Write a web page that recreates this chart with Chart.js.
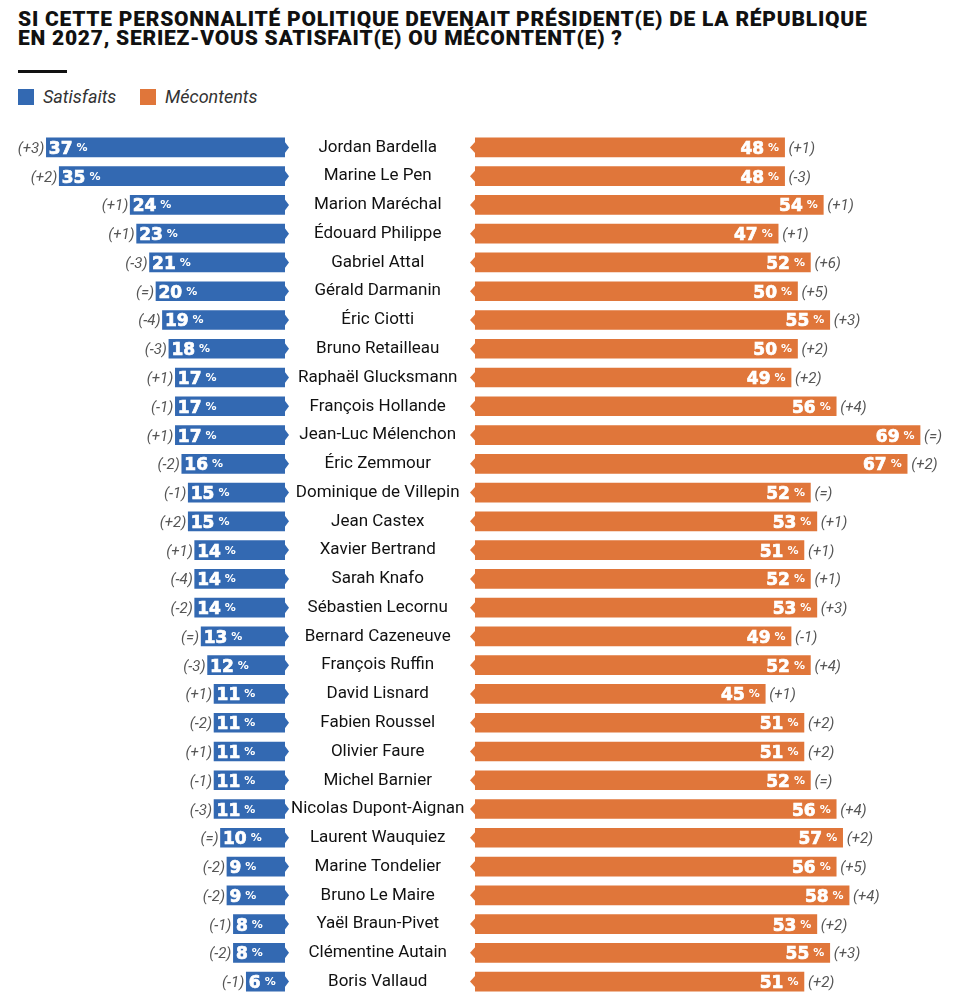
<!DOCTYPE html>
<html>
<head>
<meta charset="utf-8">
<script src="https://cdn.jsdelivr.net/npm/chart.js@4.4.0/dist/chart.umd.min.js"></script>
<style>
  body { margin: 0; background: #fff; width: 961px; height: 1000px; position: relative; overflow: hidden; font-family: Roboto, sans-serif; }
  #title { position: absolute; left: 18px; top: 10px; font-weight: 900; font-size: 21px; line-height: 19px; color: #111; letter-spacing: 0.75px; }
  #rule { position: absolute; left: 18px; top: 70px; width: 49px; height: 3px; background: #111; }
  .leg { position: absolute; top: 86px; font-style: italic; font-size: 18px; color: #333; }
  .sw { display: inline-block; width: 16px; height: 16px; vertical-align: -2px; margin-right: 9px; }
  #leftBox { position: absolute; left: 0; top: 133px; width: 470px; height: 863px; }
  #rightBox { position: absolute; left: 470px; top: 133px; width: 491px; height: 863px; }
</style>
</head>
<body>
<div id="title">SI CETTE PERSONNALITÉ POLITIQUE DEVENAIT PRÉSIDENT(E) DE LA RÉPUBLIQUE<br>EN 2027, SERIEZ-VOUS SATISFAIT(E) OU MÉCONTENT(E) ?</div>
<div id="rule"></div>
<div class="leg" style="left:18px"><span class="sw" style="background:#3369b2"></span>Satisfaits</div>
<div class="leg" style="left:140px"><span class="sw" style="background:#e0763a"></span>Mécontents</div>
<div id="leftBox"><canvas id="leftChart"></canvas></div>
<div id="rightBox"><canvas id="rightChart"></canvas></div>
<script>
// data
const names = ['Jordan Bardella', 'Marine Le Pen', 'Marion Maréchal', 'Édouard Philippe', 'Gabriel Attal',
  'Gérald Darmanin', 'Éric Ciotti', 'Bruno Retailleau', 'Raphaël Glucksmann', 'François Hollande',
  'Jean-Luc Mélenchon', 'Éric Zemmour', 'Dominique de Villepin', 'Jean Castex', 'Xavier Bertrand',
  'Sarah Knafo', 'Sébastien Lecornu', 'Bernard Cazeneuve', 'François Ruffin', 'David Lisnard',
  'Fabien Roussel', 'Olivier Faure', 'Michel Barnier', 'Nicolas Dupont-Aignan', 'Laurent Wauquiez',
  'Marine Tondelier', 'Bruno Le Maire', 'Yaël Braun-Pivet', 'Clémentine Autain', 'Boris Vallaud'];
const satisfaits = [37, 35, 24, 23, 21, 20, 19, 18, 17, 17, 17, 16, 15, 15, 14, 14, 14, 13, 12, 11, 11, 11, 11, 11, 10, 9, 9, 8, 8, 6];
const satisfaitsEvol = ['+3', '+2', '+1', '+1', '-3', '=', '-4', '-3', '+1', '-1', '+1', '-2', '-1', '+2', '+1',
  '-4', '-2', '=', '-3', '+1', '-2', '+1', '-1', '-3', '=', '-2', '-2', '-1', '-2', '-1'];
const mecontents = [48, 48, 54, 47, 52, 50, 55, 50, 49, 56, 69, 67, 52, 53, 51, 52, 53, 49, 52, 45, 51, 51, 52, 56, 57, 56, 58, 53, 55, 51];
const mecontentsEvol = ['+1', '-3', '+1', '+1', '+6', '+5', '+3', '+2', '+2', '+4', '=', '+2', '=', '+1', '+1',
  '+1', '+3', '-1', '+4', '+1', '+2', '+2', '=', '+4', '+2', '+5', '+4', '+2', '+3', '+2'];

const blue = '#3369b2';
const orange = '#e0763a';
const pxPerPoint = 6.45;
const numFont = 'bold 17px "DejaVu Sans", sans-serif';
const pctFont = 'bold 11px "DejaVu Sans", sans-serif';

// notch at the inner end of each bar + value and evolution labels
function barLabels(side, evol) {
  return {
    id: 'barLabels' + side,
    afterDatasetsDraw(chart) {
      const ctx = chart.ctx;
      const meta = chart.getDatasetMeta(0);
      const values = chart.data.datasets[0].data;
      ctx.save();
      meta.data.forEach((bar, i) => {
        const y = bar.y;
        // small arrow tip
        ctx.fillStyle = chart.data.datasets[0].backgroundColor;
        ctx.beginPath();
        if (side === 'left') {
          ctx.moveTo(bar.base - 0.5, y - 6);
          ctx.lineTo(bar.base + 4, y);
          ctx.lineTo(bar.base - 0.5, y + 6);
        } else {
          ctx.moveTo(bar.base + 0.5, y - 6);
          ctx.lineTo(bar.base - 5, y);
          ctx.lineTo(bar.base + 0.5, y + 6);
        }
        ctx.closePath();
        ctx.fill();

        const num = String(values[i]);
        ctx.textBaseline = 'alphabetic';
        ctx.font = numFont;
        const wNum = ctx.measureText(num).width;
        ctx.font = pctFont;
        const wPct = ctx.measureText('%').width;
        const gap = 4;
        let x0;
        if (side === 'left') x0 = bar.x + 2.5;
        else x0 = bar.x - 5.5 - wNum - gap - wPct;
        ctx.fillStyle = '#fff';
        ctx.strokeStyle = '#fff';
        ctx.lineWidth = 0.7;
        ctx.textAlign = 'left';
        ctx.font = numFont;
        ctx.fillText(num, x0, y + 6.5);
        ctx.strokeText(num, x0, y + 6.5);
        ctx.font = pctFont;
        ctx.fillText('%', x0 + wNum + gap, y + 3.5);

        ctx.fillStyle = '#555';
        ctx.font = 'italic 15px Roboto, sans-serif';
        const ev = '(' + evol[i] + ')';
        if (side === 'left') {
          ctx.textAlign = 'right';
          ctx.fillText(ev, bar.x - 2, y + 5.5);
        } else {
          ctx.textAlign = 'left';
          ctx.fillText(ev, bar.x + 4, y + 5.5);
        }
      });
      ctx.restore();
    }
  };
}

new Chart(document.getElementById('leftChart'), {
  type: 'bar',
  data: {
    labels: names,
    datasets: [{ label: 'Satisfaits', data: satisfaits, backgroundColor: blue, barThickness: 19 }]
  },
  options: {
    indexAxis: 'y',
    responsive: true,
    maintainAspectRatio: false,
    animation: false,
    layout: { padding: 0 },
    plugins: { legend: { display: false }, tooltip: { enabled: false } },
    scales: {
      x: { display: false, min: 0, max: 285 / pxPerPoint, reverse: true },
      y: {
        position: 'right',
        grid: { display: false, drawTicks: false },
        border: { display: false },
        afterFit(scale) {
          scale.width = 185;
          scale.paddingTop = 0;
          scale.paddingBottom = 0;
        },
        ticks: { crossAlign: 'center', padding: 6, color: '#111', font: { family: 'Roboto', size: 17 } }
      }
    }
  },
  plugins: [barLabels('left', satisfaitsEvol)]
});

new Chart(document.getElementById('rightChart'), {
  type: 'bar',
  data: {
    labels: names,
    datasets: [{ label: 'Mécontents', data: mecontents, backgroundColor: orange, barThickness: 19 }]
  },
  options: {
    indexAxis: 'y',
    responsive: true,
    maintainAspectRatio: false,
    animation: false,
    layout: { padding: { left: 5 } },
    plugins: { legend: { display: false }, tooltip: { enabled: false } },
    scales: {
      x: { display: false, min: 0, max: 486 / pxPerPoint },
      y: { display: false }
    }
  },
  plugins: [barLabels('right', mecontentsEvol)]
});
</script>
</body>
</html>
